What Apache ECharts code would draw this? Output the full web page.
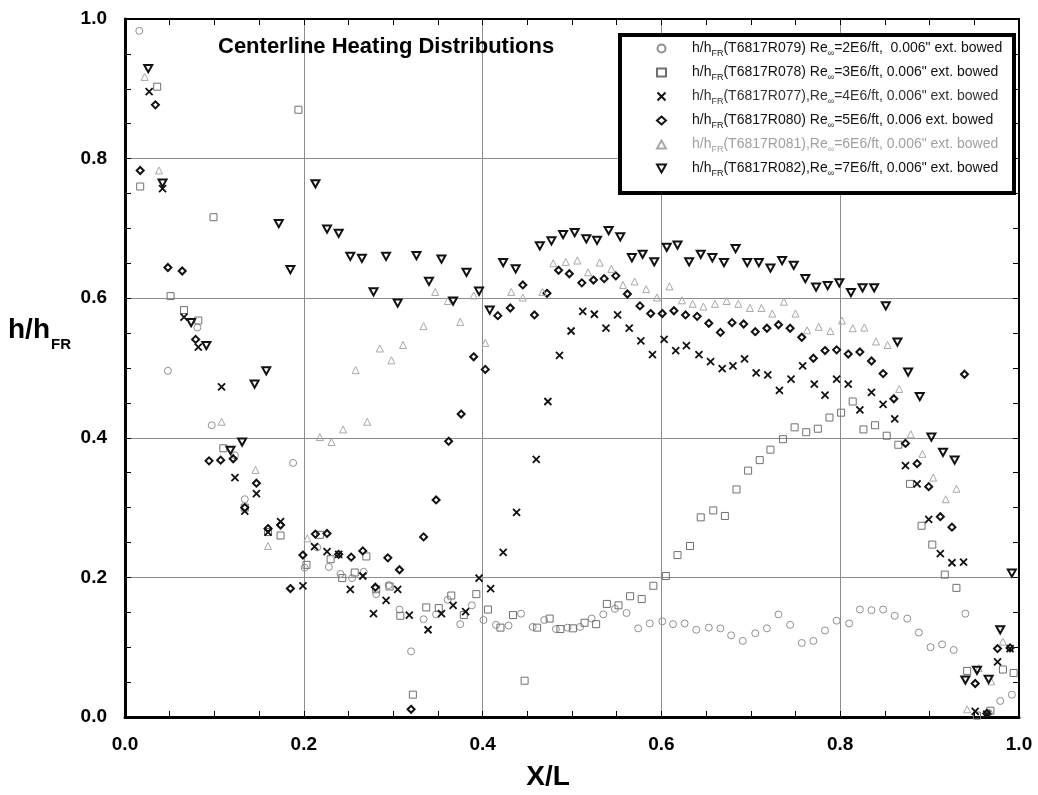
<!DOCTYPE html>
<html><head><meta charset="utf-8">
<script src="https://cdn.jsdelivr.net/npm/echarts@6/dist/echarts.min.js"></script>
<style>html,body{margin:0;padding:0;background:#fff}#c{width:1038px;height:795px}</style>
</head><body><div id="c"></div>
<script>
// ---- data ----
const xTicks = [0.0, 0.2, 0.4, 0.6, 0.8, 1.0];
const yTicks = [0.0, 0.2, 0.4, 0.6, 0.8, 1.0];
const runIds = ['T6817R079','T6817R078','T6817R077','T6817R080','T6817R081','T6817R082'];
const legendMid = [') Re', ') Re', '),Re', ') Re', '),Re', '),Re'];
const legendTail = ['=2E6/ft,  0.006" ext. bowed', '=3E6/ft, 0.006" ext. bowed', '=4E6/ft, 0.006" ext. bowed',
  '=5E6/ft, 0.006 ext. bowed', '=6E6/ft, 0.006" ext. bowed', '=7E6/ft, 0.006" ext. bowed'];

const r079 = [[0.016,0.983],[0.048,0.496],[0.081,0.558],[0.097,0.418],[0.123,0.375],[0.134,0.312],[0.188,0.364],[0.201,0.214],[0.215,0.243],[0.228,0.215],[0.241,0.205],[0.254,0.199],[0.267,0.208],[0.281,0.176],[0.295,0.189],[0.307,0.154],[0.320,0.094],[0.334,0.140],[0.348,0.147],[0.361,0.168],[0.375,0.133],[0.388,0.160],[0.401,0.139],[0.415,0.132],[0.429,0.131],[0.443,0.148],[0.456,0.129],[0.469,0.139],[0.482,0.126],[0.495,0.128],[0.509,0.129],[0.522,0.141],[0.535,0.147],[0.548,0.155],[0.561,0.149],[0.574,0.127],[0.587,0.134],[0.601,0.137],[0.613,0.133],[0.626,0.134],[0.639,0.125],[0.653,0.128],[0.666,0.127],[0.678,0.117],[0.691,0.109],[0.705,0.120],[0.718,0.127],[0.731,0.147],[0.744,0.132],[0.757,0.106],[0.770,0.109],[0.783,0.124],[0.796,0.138],[0.810,0.134],[0.822,0.154],[0.835,0.153],[0.848,0.154],[0.861,0.145],[0.875,0.141],[0.888,0.121],[0.901,0.100],[0.914,0.104],[0.927,0.096],[0.940,0.148],[0.966,0.006],[0.979,0.023],[0.992,0.032]];
const r078 = [[0.017,0.760],[0.036,0.903],[0.051,0.603],[0.066,0.583],[0.082,0.568],[0.099,0.716],[0.110,0.385],[0.134,0.300],[0.160,0.265],[0.174,0.260],[0.194,0.870],[0.203,0.218],[0.218,0.261],[0.230,0.226],[0.243,0.199],[0.257,0.207],[0.270,0.230],[0.281,0.183],[0.296,0.187],[0.308,0.145],[0.322,0.032],[0.337,0.157],[0.351,0.156],[0.365,0.174],[0.379,0.146],[0.393,0.176],[0.406,0.154],[0.420,0.128],[0.434,0.146],[0.447,0.052],[0.461,0.128],[0.475,0.141],[0.487,0.126],[0.501,0.127],[0.514,0.135],[0.527,0.133],[0.539,0.162],[0.552,0.160],[0.565,0.173],[0.578,0.169],[0.591,0.188],[0.605,0.202],[0.618,0.232],[0.632,0.245],[0.644,0.286],[0.658,0.296],[0.671,0.288],[0.684,0.326],[0.697,0.353],[0.710,0.368],[0.722,0.383],[0.736,0.398],[0.749,0.415],[0.762,0.408],[0.775,0.413],[0.788,0.429],[0.801,0.436],[0.814,0.452],[0.826,0.412],[0.839,0.418],[0.852,0.403],[0.865,0.390],[0.878,0.334],[0.891,0.274],[0.903,0.247],[0.917,0.204],[0.930,0.185],[0.942,0.066],[0.953,0.002],[0.968,0.009],[0.982,0.068],[0.994,0.063]];
const r077 = [[0.027,0.896],[0.042,0.757],[0.066,0.573],[0.082,0.530],[0.108,0.473],[0.123,0.343],[0.134,0.295],[0.147,0.320],[0.160,0.265],[0.174,0.280],[0.199,0.188],[0.212,0.244],[0.226,0.237],[0.239,0.233],[0.252,0.183],[0.266,0.202],[0.278,0.148],[0.292,0.167],[0.305,0.183],[0.318,0.146],[0.339,0.125],[0.354,0.148],[0.367,0.160],[0.381,0.151],[0.396,0.199],[0.409,0.184],[0.423,0.236],[0.438,0.293],[0.460,0.369],[0.473,0.452],[0.486,0.518],[0.499,0.553],[0.512,0.581],[0.525,0.577],[0.538,0.557],[0.551,0.576],[0.564,0.557],[0.577,0.539],[0.590,0.519],[0.603,0.541],[0.616,0.525],[0.628,0.532],[0.642,0.519],[0.655,0.509],[0.668,0.499],[0.680,0.503],[0.693,0.513],[0.706,0.493],[0.719,0.490],[0.732,0.468],[0.745,0.484],[0.758,0.503],[0.771,0.477],[0.783,0.461],[0.796,0.484],[0.809,0.477],[0.822,0.440],[0.835,0.465],[0.848,0.448],[0.861,0.427],[0.873,0.360],[0.886,0.334],[0.899,0.283],[0.912,0.234],[0.925,0.221],[0.938,0.222],[0.951,0.008],[0.964,0.004],[0.976,0.079],[0.990,0.098]];
const r080 = [[0.017,0.783],[0.034,0.877],[0.048,0.644],[0.064,0.639],[0.079,0.541],[0.094,0.367],[0.107,0.368],[0.121,0.370],[0.134,0.300],[0.147,0.335],[0.160,0.270],[0.174,0.275],[0.185,0.184],[0.199,0.232],[0.213,0.262],[0.226,0.263],[0.239,0.233],[0.253,0.229],[0.266,0.238],[0.280,0.186],[0.294,0.228],[0.307,0.211],[0.320,0.011],[0.334,0.258],[0.348,0.311],[0.362,0.395],[0.376,0.434],[0.390,0.516],[0.403,0.498],[0.417,0.575],[0.431,0.586],[0.445,0.619],[0.458,0.576],[0.472,0.607],[0.485,0.640],[0.497,0.635],[0.511,0.622],[0.524,0.626],[0.536,0.628],[0.549,0.632],[0.562,0.606],[0.576,0.589],[0.588,0.578],[0.601,0.578],[0.614,0.582],[0.627,0.576],[0.640,0.574],[0.653,0.564],[0.666,0.551],[0.679,0.565],[0.692,0.563],[0.705,0.552],[0.718,0.557],[0.731,0.562],[0.744,0.557],[0.757,0.544],[0.770,0.514],[0.783,0.525],[0.796,0.526],[0.809,0.520],[0.822,0.523],[0.835,0.510],[0.848,0.492],[0.860,0.456],[0.873,0.392],[0.886,0.363],[0.899,0.330],[0.912,0.287],[0.925,0.272],[0.939,0.491],[0.951,0.048],[0.964,0.005],[0.976,0.098],[0.990,0.099]];
const r081 = [[0.022,0.917],[0.038,0.783],[0.108,0.423],[0.146,0.354],[0.160,0.245],[0.204,0.256],[0.218,0.401],[0.231,0.394],[0.244,0.412],[0.258,0.497],[0.271,0.423],[0.285,0.528],[0.298,0.511],[0.311,0.533],[0.334,0.560],[0.347,0.609],[0.361,0.596],[0.375,0.566],[0.390,0.604],[0.403,0.536],[0.432,0.609],[0.445,0.601],[0.467,0.609],[0.479,0.650],[0.493,0.652],[0.506,0.654],[0.518,0.637],[0.531,0.651],[0.544,0.642],[0.557,0.619],[0.570,0.624],[0.583,0.613],[0.595,0.601],[0.609,0.617],[0.623,0.597],[0.635,0.592],[0.647,0.588],[0.660,0.592],[0.673,0.596],[0.686,0.592],[0.699,0.586],[0.712,0.586],[0.724,0.578],[0.737,0.595],[0.750,0.578],[0.763,0.554],[0.776,0.559],[0.789,0.553],[0.802,0.568],[0.814,0.557],[0.827,0.558],[0.840,0.538],[0.853,0.533],[0.866,0.470],[0.879,0.405],[0.892,0.377],[0.904,0.343],[0.918,0.312],[0.930,0.327],[0.942,0.011],[0.955,0.070],[0.969,0.051],[0.982,0.108]];
const r082 = [[0.026,0.929],[0.042,0.765],[0.074,0.565],[0.091,0.532],[0.118,0.382],[0.131,0.394],[0.145,0.477],[0.158,0.496],[0.172,0.707],[0.185,0.641],[0.213,0.764],[0.226,0.699],[0.239,0.693],[0.252,0.660],[0.265,0.657],[0.278,0.609],[0.292,0.660],[0.305,0.593],[0.326,0.661],[0.340,0.624],[0.354,0.656],[0.367,0.596],[0.382,0.637],[0.396,0.610],[0.408,0.583],[0.423,0.651],[0.437,0.642],[0.464,0.675],[0.477,0.682],[0.490,0.691],[0.503,0.694],[0.516,0.685],[0.528,0.683],[0.541,0.697],[0.554,0.688],[0.567,0.658],[0.579,0.663],[0.592,0.652],[0.606,0.673],[0.618,0.676],[0.631,0.652],[0.644,0.663],[0.657,0.658],[0.670,0.651],[0.683,0.671],[0.696,0.651],[0.709,0.651],[0.722,0.643],[0.735,0.654],[0.748,0.647],[0.761,0.628],[0.773,0.616],[0.786,0.618],[0.799,0.622],[0.812,0.608],[0.825,0.615],[0.838,0.615],[0.851,0.589],[0.864,0.537],[0.876,0.494],[0.889,0.459],[0.902,0.401],[0.915,0.379],[0.928,0.368],[0.940,0.053],[0.953,0.067],[0.966,0.054],[0.979,0.125],[0.992,0.206]];

// ---- styling ----
const seriesData = [r079, r078, r077, r080, r081, r082];
const DOWN_TRI = 'path://M0,0L10,0L5,9Z';
const styles = [
  {symbol: 'circle', size: 7, color: '#8f8f8f', bw: 1, txt: 't0'},
  {symbol: 'rect', size: 7, color: '#707070', bw: 1, txt: 't0'},
  {symbol: 'path://M0,0L10,10M10,0L0,10', size: 7, color: '#111', bw: 1.8, txt: 't1'},
  {symbol: 'diamond', size: 7, color: '#111', bw: 2, txt: 't0'},
  {symbol: 'triangle', size: 7, color: '#a8a8a8', bw: 1, txt: 't2'},
  {symbol: DOWN_TRI, size: 8, color: '#111', bw: 2, txt: 't0'}
];
const FONT = '"Liberation Sans", Arial, Helvetica, sans-serif';

const chart = echarts.init(document.getElementById('c'), null, {renderer: 'canvas'});

const series = seriesData.map((d, i) => ({
  name: runIds[i],
  type: 'scatter',
  data: d,
  symbol: styles[i].symbol,
  symbolSize: styles[i].size,
  symbolKeepAspect: true,
  itemStyle: {color: 'rgba(0,0,0,0)', borderColor: styles[i].color, borderWidth: styles[i].bw, opacity: 1},
  emphasis: {disabled: true},
  z: 3 + i
}));

const rich = {};
[['t0', '#111'], ['t1', '#333'], ['t2', '#a0a0a0']].forEach(([k, c]) => {
  rich[k + 'f'] = {fontFamily: FONT, fontSize: 14, color: c, lineHeight: 10, padding: [0, 0, 0, 21]};
  rich[k + 'a'] = {fontFamily: FONT, fontSize: 14, color: c, lineHeight: 10};
  rich[k + 's'] = {fontFamily: FONT, fontSize: 9, color: c, lineHeight: 10, padding: [10, 0, 0, 0]};
});

const axisLabelStyle = {fontFamily: FONT, fontWeight: 'bold', fontSize: 19, color: '#000'};
const tickCommon = {show: true, inside: true, length: 6, lineStyle: {color: '#000', width: 1}};
const minorCommon = {show: true, splitNumber: 4, length: 6, lineStyle: {color: '#000', width: 1}};

const option = {
  backgroundColor: '#fff',
  animation: false,
  grid: {left: 125, right: 19, top: 19, bottom: 78, containLabel: false},
  xAxis: [{
    type: 'value', min: xTicks[0], max: xTicks[xTicks.length - 1], interval: 0.2, position: 'bottom',
    axisLine: {show: true, onZero: false, lineStyle: {color: '#000', width: 3}},
    axisTick: tickCommon, minorTick: minorCommon,
    axisLabel: Object.assign({margin: 18, formatter: v => v.toFixed(1)}, axisLabelStyle),
    splitLine: {show: true, lineStyle: {color: '#8c8c8c', width: 1}}
  }, {
    type: 'value', min: xTicks[0], max: xTicks[xTicks.length - 1], interval: 0.2, position: 'top',
    axisLine: {show: true, onZero: false, lineStyle: {color: '#000', width: 2}},
    axisTick: tickCommon, minorTick: minorCommon, axisLabel: {show: false}, splitLine: {show: false}
  }],
  yAxis: [{
    type: 'value', min: yTicks[0], max: yTicks[yTicks.length - 1], interval: 0.2, position: 'left',
    axisLine: {show: true, onZero: false, lineStyle: {color: '#000', width: 3}},
    axisTick: tickCommon, minorTick: minorCommon,
    axisLabel: Object.assign({margin: 18, formatter: v => v.toFixed(1)}, axisLabelStyle),
    splitLine: {show: true, lineStyle: {color: '#8c8c8c', width: 1}}
  }, {
    type: 'value', min: yTicks[0], max: yTicks[yTicks.length - 1], interval: 0.2, position: 'right',
    axisLine: {show: true, onZero: false, lineStyle: {color: '#000', width: 2}},
    axisTick: tickCommon, minorTick: minorCommon, axisLabel: {show: false}, splitLine: {show: false}
  }],
  legend: {
    orient: 'vertical', left: 656, top: 39, padding: 0, itemGap: 5,
    itemWidth: 9, itemHeight: 8, selectedMode: false, z: 20,
    data: runIds.map((id, i) => ({name: id, icon: styles[i].symbol})),
    formatter: name => {
      const i = runIds.indexOf(name);
      const t = styles[i].txt;
      return `{${t}f|h/h}{${t}s|FR}{${t}a|(${runIds[i]}${legendMid[i]}}{${t}s|∞}{${t}a|${legendTail[i]}}`;
    },
    textStyle: {fontFamily: FONT, fontSize: 14, rich: rich}
  },
  graphic: [
    {type: 'rect', z: 15, shape: {x: 620, y: 35, width: 394, height: 158},
      style: {fill: '#fff', stroke: '#000', lineWidth: 4}},
    {type: 'text', z: 20, x: 218, y: 47,
      style: {text: 'Centerline Heating Distributions', font: `bold 22px ${FONT}`, fill: '#000', textVerticalAlign: 'middle'}},
    {type: 'text', z: 20, x: 8, y: 330,
      style: {text: 'h/h', font: `bold 28px ${FONT}`, fill: '#000', textVerticalAlign: 'middle'}},
    {type: 'text', z: 20, x: 51, y: 345,
      style: {text: 'FR', font: `bold 15px ${FONT}`, fill: '#000', textVerticalAlign: 'middle'}},
    {type: 'text', z: 20, x: 548, y: 777,
      style: {text: 'X/L', font: `bold 28px ${FONT}`, fill: '#000', textAlign: 'center', textVerticalAlign: 'middle'}}
  ],
  series: series
};
chart.setOption(option);
</script>
</body></html>
